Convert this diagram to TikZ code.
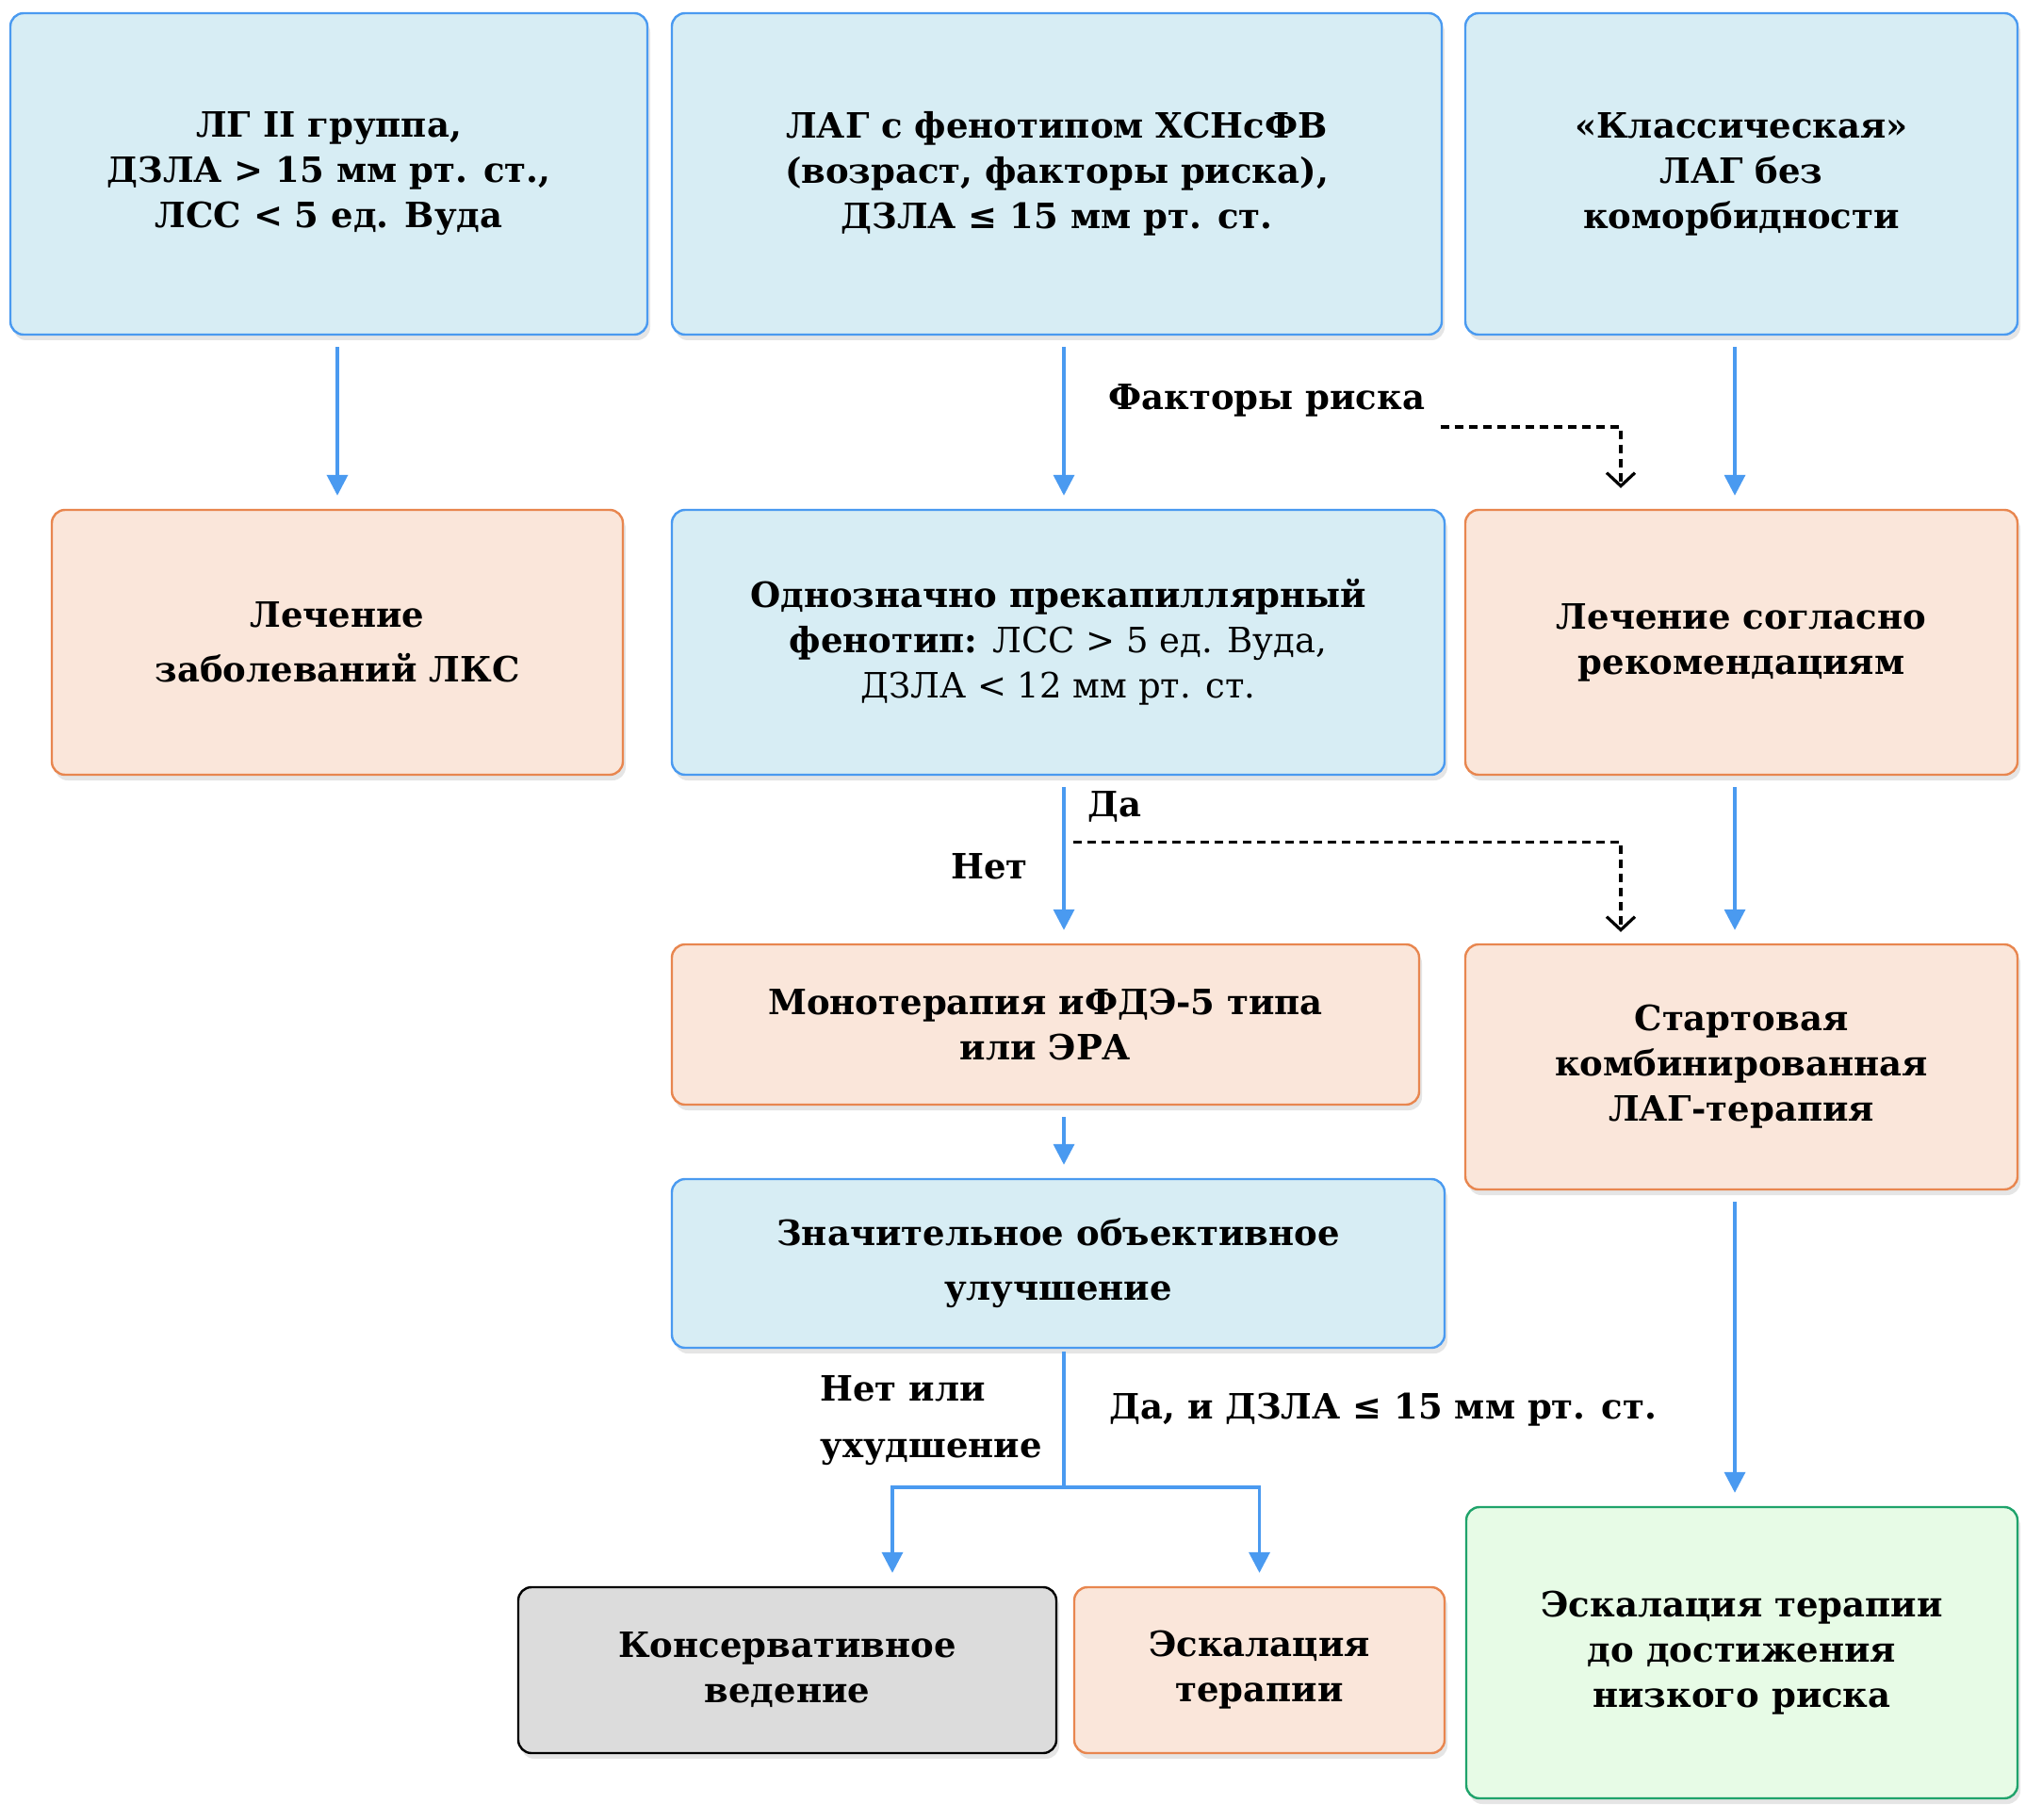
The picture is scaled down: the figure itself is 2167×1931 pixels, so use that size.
\documentclass[tikz,border=0pt]{standalone}
\usepackage{fontspec}
\setmainfont{DejaVu Serif}
\usetikzlibrary{arrows.meta,shadows}
\definecolor{bluefill}{HTML}{D7EDF4}
\definecolor{blueline}{HTML}{4A9AF0}
\definecolor{orangefill}{HTML}{FAE6DA}
\definecolor{orangeline}{HTML}{E8864F}
\definecolor{grayfill}{HTML}{DCDCDC}
\definecolor{greenfill}{HTML}{E7FBE6}
\definecolor{greenline}{HTML}{1FA36B}

\begin{document}
\begin{tikzpicture}[x=0.5pt,y=-0.5pt,
  box/.style={draw,rounded corners=7pt,line width=1.2pt,align=center,inner sep=0pt,
    font=\fontsize{18.5}{24}\selectfont\bfseries,
    drop shadow={shadow xshift=1.5pt,shadow yshift=-3pt,fill=black,opacity=0.1}},
  bluebox/.style={box,draw=blueline,fill=bluefill},
  orangebox/.style={box,draw=orangeline,fill=orangefill},
  graybox/.style={box,draw=black,fill=grayfill},
  greenbox/.style={box,draw=greenline,fill=greenfill},
  tag/.style={inner sep=0pt,anchor=west,font=\fontsize{18.5}{24}\selectfont\bfseries},
  flow/.style={color=blueline,line width=1.8pt,-{Stealth[inset=0pt,length=11pt,width=11pt]},
    shorten <=6pt,shorten >=7pt},
  riskline/.style={draw=black,line width=1.6pt,dash pattern=on 4.5pt off 3pt,
    -{Straight Barb[length=7pt,width=15pt]}}]
  \path[use as bounding box] (0,0) rectangle (2167,1931);
  \coordinate (mid) at (1129,0);
  \coordinate (rgt) at (1841,0);

  % first row
  \node[bluebox,minimum width=338pt,minimum height=170.5pt] (lg2) at (349,184.5)
    {ЛГ II группа,\\ДЗЛА > 15 мм рт. ст.,\\ЛСС < 5 ед. Вуда};
  \node[bluebox,minimum width=408.5pt,minimum height=170.5pt] (hfpef) at (1121.5,184.5)
    {ЛАГ с фенотипом ХСНсФВ\\(возраст, факторы риска),\\ДЗЛА ≤ 15 мм рт. ст.};
  \node[bluebox,minimum width=293pt,minimum height=170.5pt] (classic) at (1848,184.5)
    {«Классическая»\\ЛАГ без\\коморбидности};

  % second row
  \node[orangebox,minimum width=303pt,minimum height=140.5pt,
    font=\fontsize{18.5}{29}\selectfont\bfseries] (lhd) at (358,681.5)
    {Лечение\\заболеваний ЛКС};
  \node[bluebox,minimum width=410pt,minimum height=140.5pt] (precap) at (1123,681.5)
    {Однозначно прекапиллярный\\фенотип:{\mdseries{} ЛСС > 5 ед. Вуда,}\\{\mdseries ДЗЛА < 12 мм рт. ст.}};
  \node[orangebox,minimum width=293pt,minimum height=140.5pt] (guide) at (1848,681.5)
    {Лечение согласно\\рекомендациям};

  % third row
  \node[orangebox,minimum width=396.5pt,minimum height=85pt] (mono) at (1109.5,1087)
    {Монотерапия иФДЭ-5 типа\\или ЭРА};
  \node[orangebox,minimum width=293pt,minimum height=130pt] (combo) at (1848,1132)
    {Стартовая\\комбинированная\\ЛАГ-терапия};
  \node[bluebox,minimum width=410pt,minimum height=89.5pt,
    font=\fontsize{18.5}{29}\selectfont\bfseries] (improve) at (1123,1340.5)
    {Значительное объективное\\улучшение};

  % last row
  \node[graybox,minimum width=285.5pt,minimum height=88pt] (conserv) at (835.5,1772)
    {Консервативное\\ведение};
  \node[orangebox,minimum width=196.5pt,minimum height=88pt] (escal) at (1336.5,1772)
    {Эскалация\\терапии};
  \node[greenbox,minimum width=292.5pt,minimum height=154.5pt] (lowrisk) at (1848.5,1753.5)
    {Эскалация терапии\\до достижения\\низкого риска};

  % labels
  \node[tag] (risk) at (1176,425) {Факторы риска};
  \node[tag] (yes1) at (1154,856) {Да};
  \node[tag] (no1) at (1009,919) {Нет};
  \node[tag,align=left,font=\fontsize{18.5}{30}\selectfont\bfseries] (no2) at (870,1507)
    {Нет или\\ухудшение};
  \node[tag] (yes2) at (1177,1496) {Да, и ДЗЛА ≤ 15 мм рт. ст.};

  \path[flow]
    (lhd.north |- lg2.south) edge (lhd.north)
    (hfpef.south -| mid) edge (precap.north -| mid)
    (classic.south -| rgt) edge (guide.north -| rgt)
    (precap.south -| mid) edge (mono.north -| mid)
    (guide.south -| rgt) edge (combo.north -| rgt)
    (mono.south -| mid) edge (improve.north -| mid)
    (combo.south -| rgt) edge (lowrisk.north -| rgt);

  \draw[flow,-,shorten <=1.5pt,shorten >=0pt] (improve.south -| mid) -- ++(0,147) coordinate (split);
  \draw[flow,shorten <=0pt] (split) -| ([xshift=55.75pt]conserv.north);
  \draw[flow,shorten <=0pt] (split) -| (escal.north);

  \draw[riskline] (risk.east) ++(8pt,-14pt) -| ([xshift=-64pt,yshift=11pt]guide.north);
  \draw[riskline] (precap.south -| mid) ++(5pt,-35pt) -| ([xshift=-64pt,yshift=6pt]combo.north);
\end{tikzpicture}
\end{document}
